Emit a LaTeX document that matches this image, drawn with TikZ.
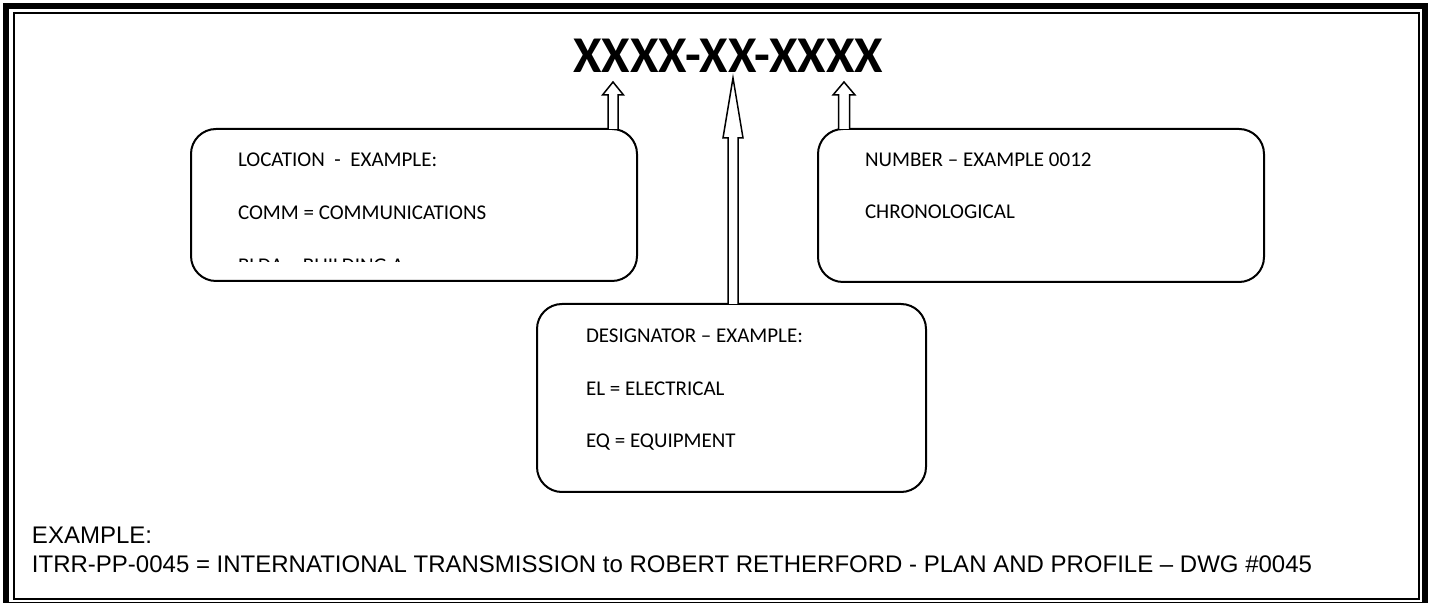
\documentclass[tikz,border=0pt]{standalone}
\usepackage{fontspec}
\setmainfont{Carlito}
\newfontfamily\arialfont{Liberation Sans}
\usepackage{tikz}
\usetikzlibrary{calc,positioning}

\newcommand{\hollowarrow}[5]{%
  \draw[hollow] ($(#1 |- #2.north)+(-#3,0)$) -- ($(#1)+(-#3,#5)$)
    -- ($(#1)+(-#4,#5)$) -- (#1) -- ($(#1)+(#4,#5)$)
    -- ($(#1)+(#3,#5)$) -- ($(#1 |- #2.north)+(#3,0)$);}

\begin{document}
\begin{tikzpicture}[x=0.5pt,y=-0.5pt,semithick,
                    every node/.style={inner sep=0pt,outer sep=0pt}]
  \tikzstyle{roundbox}=[draw,line width=1pt,rounded corners=12.5pt,fill=white]
  \tikzstyle{boxtext}=[anchor=base west,font=\fontsize{10.5}{12}\selectfont]
  \tikzstyle{hollow}=[draw,line width=0.75pt,fill=white,line join=miter]
  \tikzstyle{note}=[anchor=base west,font=\arialfont\fontsize{12}{14}\selectfont]

  \useasboundingbox (0,0) rectangle (1429,603);
  \draw[line width=3pt] (6,6) rectangle (1425,605);
  \draw[line width=0.9pt] (14,13) rectangle (1419,599);

  \node (title) [anchor=base,font=\fontsize{25.8}{30}\bfseries] at (728,73) {XXXX-XX-XXXX};

  \coordinate (tipL) at (613,82);
  \coordinate (tipC) at (733,78);
  \coordinate (tipR) at (844,82);

  \node[roundbox,minimum width=223pt,minimum height=76pt]   (locbox) at (414,205)   {};
  \node[roundbox,minimum width=223pt,minimum height=76.5pt] (numbox) at (1041,205.5) {};
  \node[roundbox,minimum width=194.5pt,minimum height=94pt] (desbox) at (731.5,398) {};

  \hollowarrow{tipL}{locbox}{5}{10.5}{13}
  \hollowarrow{tipC}{desbox}{5}{10}{60}
  \hollowarrow{tipR}{numbox}{5.5}{11}{13}

  \begin{scope}
    \clip (locbox.north west) rectangle ($(locbox.south east)+(0,-19)$);
    \node[boxtext] (loc1) at ($(locbox.north west)+(47,38)$) {LOCATION\ \ -\ \ EXAMPLE:};
    \node[boxtext] (loc2) at ($(loc1.base west)+(0,53)$) {COMM = COMMUNICATIONS};
    \node[boxtext] (loc3) at ($(loc2.base west)+(0,53)$) {BLDA = BUILDING A};
  \end{scope}

  \node[boxtext] (num1) at ($(numbox.north west)+(47,38)$) {NUMBER – EXAMPLE 0012};
  \node[boxtext] (num2) at ($(num1.base west)+(0,52)$)     {CHRONOLOGICAL};

  \node[boxtext] (des1) at ($(desbox.north west)+(49,39)$) {DESIGNATOR – EXAMPLE:};
  \node[boxtext] (des2) at ($(des1.base west)+(0,53)$)     {EL = ELECTRICAL};
  \node[boxtext] (des3) at ($(des2.base west)+(0,52)$)     {EQ = EQUIPMENT};

  \node[note] (ex1) at (32,544) {EXAMPLE:};
  \node[note] (ex2) at ($(ex1.base west)+(0,29)$)
    {ITRR-PP-0045 = INTERNATIONAL TRANSMISSION to ROBERT RETHERFORD - PLAN AND PROFILE – DWG \#0045};
\end{tikzpicture}
\end{document}
